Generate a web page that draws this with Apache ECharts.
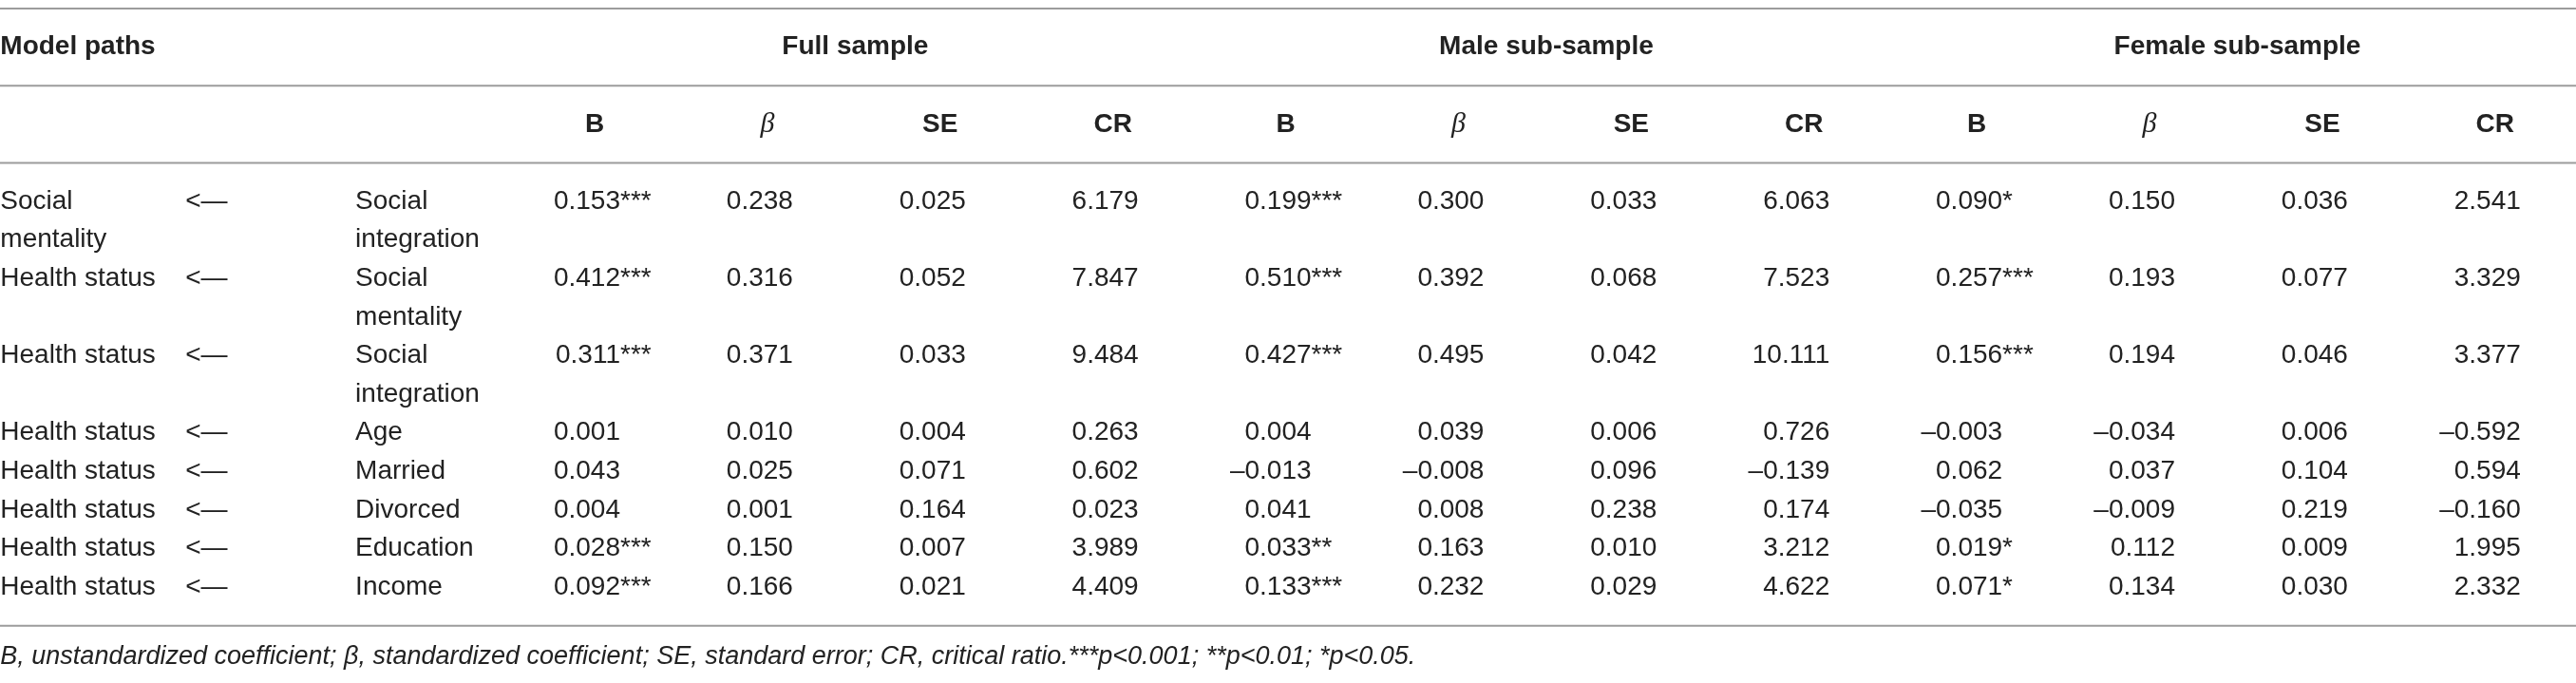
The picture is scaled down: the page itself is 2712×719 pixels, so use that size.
<!DOCTYPE html>
<html>
<head>
<meta charset="utf-8">
<script src="https://cdn.jsdelivr.net/npm/echarts@6/dist/echarts.min.js"></script>
<style>
html, body { margin: 0; padding: 0; background: #fff; }
#main { width: 2712px; height: 719px; }
</style>
</head>
<body>
<div id="main"></div>
<script>
// table content
var groups = ['Full sample', 'Male sub-sample', 'Female sub-sample'];
var statCols = ['B', 'β', 'SE', 'CR'];

var pathFrom = ['Social\nmentality', 'Health status', 'Health status', 'Health status',
  'Health status', 'Health status', 'Health status', 'Health status'];
var pathArrow = '<—';
var pathTo = ['Social\nintegration', 'Social\nmentality', 'Social\nintegration', 'Age',
  'Married', 'Divorced', 'Education', 'Income'];

var fullB = [0.153, 0.412, 0.311, 0.001, 0.043, 0.004, 0.028, 0.092];
var fullBSig = ['***', '***', '***', '', '', '', '***', '***'];
var fullBeta = [0.238, 0.316, 0.371, 0.010, 0.025, 0.001, 0.150, 0.166];
var fullSE = [0.025, 0.052, 0.033, 0.004, 0.071, 0.164, 0.007, 0.021];
var fullCR = [6.179, 7.847, 9.484, 0.263, 0.602, 0.023, 3.989, 4.409];

var maleB = [0.199, 0.510, 0.427, 0.004, -0.013, 0.041, 0.033, 0.133];
var maleBSig = ['***', '***', '***', '', '', '', '**', '***'];
var maleBeta = [0.300, 0.392, 0.495, 0.039, -0.008, 0.008, 0.163, 0.232];
var maleSE = [0.033, 0.068, 0.042, 0.006, 0.096, 0.238, 0.010, 0.029];
var maleCR = [6.063, 7.523, 10.111, 0.726, -0.139, 0.174, 3.212, 4.622];

var femaleB = [0.090, 0.257, 0.156, -0.003, 0.062, -0.035, 0.019, 0.071];
var femaleBSig = ['*', '***', '***', '', '', '', '*', '*'];
var femaleBeta = [0.150, 0.193, 0.194, -0.034, 0.037, -0.009, 0.112, 0.134];
var femaleSE = [0.036, 0.077, 0.046, 0.006, 0.104, 0.219, 0.009, 0.030];
var femaleCR = [2.541, 3.329, 3.377, -0.592, 0.594, -0.160, 1.995, 2.332];

var note = 'B, unstandardized coefficient; β, standardized coefficient; SE, standard error; ' +
  'CR, critical ratio.***p<0.001; **p<0.01; *p<0.05.';

// look
var SANS = '"Liberation Sans", Arial, sans-serif';
var SERIF = '"Liberation Serif", "Times New Roman", serif';
var INK = '#222';
var RULE = '#9c9c9c';
var TEXT_SHIFT = [-107, -94, -97];

var chart = echarts.init(document.getElementById('main'));

function fmt(v) {
  return (v < 0 ? '–' : '') + Math.abs(v).toFixed(3);
}

// row start lines, from how many lines each row needs
var rowLine = [];
var line = 0;
pathFrom.forEach(function (t, i) {
  rowLine.push(line);
  line += Math.max(t.split('\n').length, pathTo[i].split('\n').length);
});
var endLine = line;

var cells = [];
cells.push({ kind: 'head', x: 0, y: -4, text: 'Model paths' });
var blocks = [
  [fullB, fullBSig, fullBeta, fullSE, fullCR],
  [maleB, maleBSig, maleBeta, maleSE, maleCR],
  [femaleB, femaleBSig, femaleBeta, femaleSE, femaleCR]
];
groups.forEach(function (g, gi) {
  var c0 = 3 + gi * 4;
  cells.push({ kind: 'group', x: c0 + 1.36, y: -4, text: g });
  statCols.forEach(function (s, si) {
    cells.push({ kind: s === 'β' ? 'beta' : 'sub', x: c0 + si, y: -2, text: s });
  });
});
pathFrom.forEach(function (t, i) {
  cells.push({ kind: 'text', x: 0, y: rowLine[i], text: t });
  cells.push({ kind: 'text', x: 1, y: rowLine[i], text: pathArrow });
  cells.push({ kind: 'text', x: 2, y: rowLine[i], text: pathTo[i] });
  blocks.forEach(function (b, gi) {
    var c0 = 3 + gi * 4;
    cells.push({ kind: 'num', x: c0, y: rowLine[i], text: fmt(b[0][i]), sig: b[1][i] });
    cells.push({ kind: 'num', x: c0 + 1, y: rowLine[i], text: fmt(b[2][i]) });
    cells.push({ kind: 'num', x: c0 + 2, y: rowLine[i], text: fmt(b[3][i]) });
    cells.push({ kind: 'num', x: c0 + 3, y: rowLine[i], text: fmt(b[4][i]) });
  });
});
cells.push({ kind: 'note', x: 0, y: endLine + 0.8, text: note });

var rules = [-5, -3, -1, endLine];

function renderCell(params, api) {
  var c = cells[params.dataIndex];
  var p = api.coord([api.value(0), api.value(1)]);
  var lh = api.size([0, 1])[1];
  var st = { text: c.text, fill: INK, fontFamily: SANS, fontSize: 28, verticalAlign: 'middle' };
  var x = p[0], y = p[1];
  if (c.kind === 'head') {
    st.fontWeight = 'bold';
    st.align = 'left';
    x += TEXT_SHIFT[0];
  } else if (c.kind === 'group') {
    st.fontWeight = 'bold';
    st.align = 'center';
  } else if (c.kind === 'sub') {
    st.fontWeight = 'bold';
    st.align = 'center';
    x -= 27;
  } else if (c.kind === 'beta') {
    st.fontFamily = SERIF;
    st.fontStyle = 'italic';
    st.fontSize = 30;
    st.align = 'center';
    x -= 27;
  } else if (c.kind === 'text') {
    st.align = 'left';
    st.verticalAlign = 'top';
    st.lineHeight = lh;
    x += TEXT_SHIFT[api.value(0)];
    y -= lh / 2;
  } else if (c.kind === 'note') {
    st.fontStyle = 'italic';
    st.fontSize = 27;
    st.align = 'left';
    x += TEXT_SHIFT[0];
  } else {
    st.align = 'right';
    var kids = [{ type: 'text', x: x, y: y, style: st }];
    if (c.sig) {
      kids.push({ type: 'text', x: x, y: y, style: {
        text: c.sig, fill: INK, fontFamily: SANS, fontSize: 28,
        align: 'left', verticalAlign: 'middle'
      } });
    }
    return { type: 'group', children: kids };
  }
  return { type: 'text', x: x, y: y, style: st };
}

function renderRule(params, api) {
  var y = api.coord([0, api.value(1)])[1];
  var cs = params.coordSys;
  return {
    type: 'line',
    shape: { x1: cs.x, y1: y, x2: cs.x + cs.width, y2: y },
    style: { stroke: RULE, lineWidth: 2 }
  };
}

chart.setOption({
  animation: false,
  backgroundColor: '#fff',
  grid: { left: 0, right: 0, top: 0, bottom: 0 },
  xAxis: { type: 'value', min: -0.59, max: 14.32, show: false },
  yAxis: { type: 'value', min: -5.222, max: 12.487, inverse: true, show: false },
  series: [
    {
      type: 'custom',
      silent: true,
      clip: false,
      renderItem: renderRule,
      data: rules.map(function (r) { return [0, r]; })
    },
    {
      type: 'custom',
      silent: true,
      clip: false,
      renderItem: renderCell,
      data: cells.map(function (c) { return [c.x, c.y]; })
    }
  ]
});
</script>
</body>
</html>
